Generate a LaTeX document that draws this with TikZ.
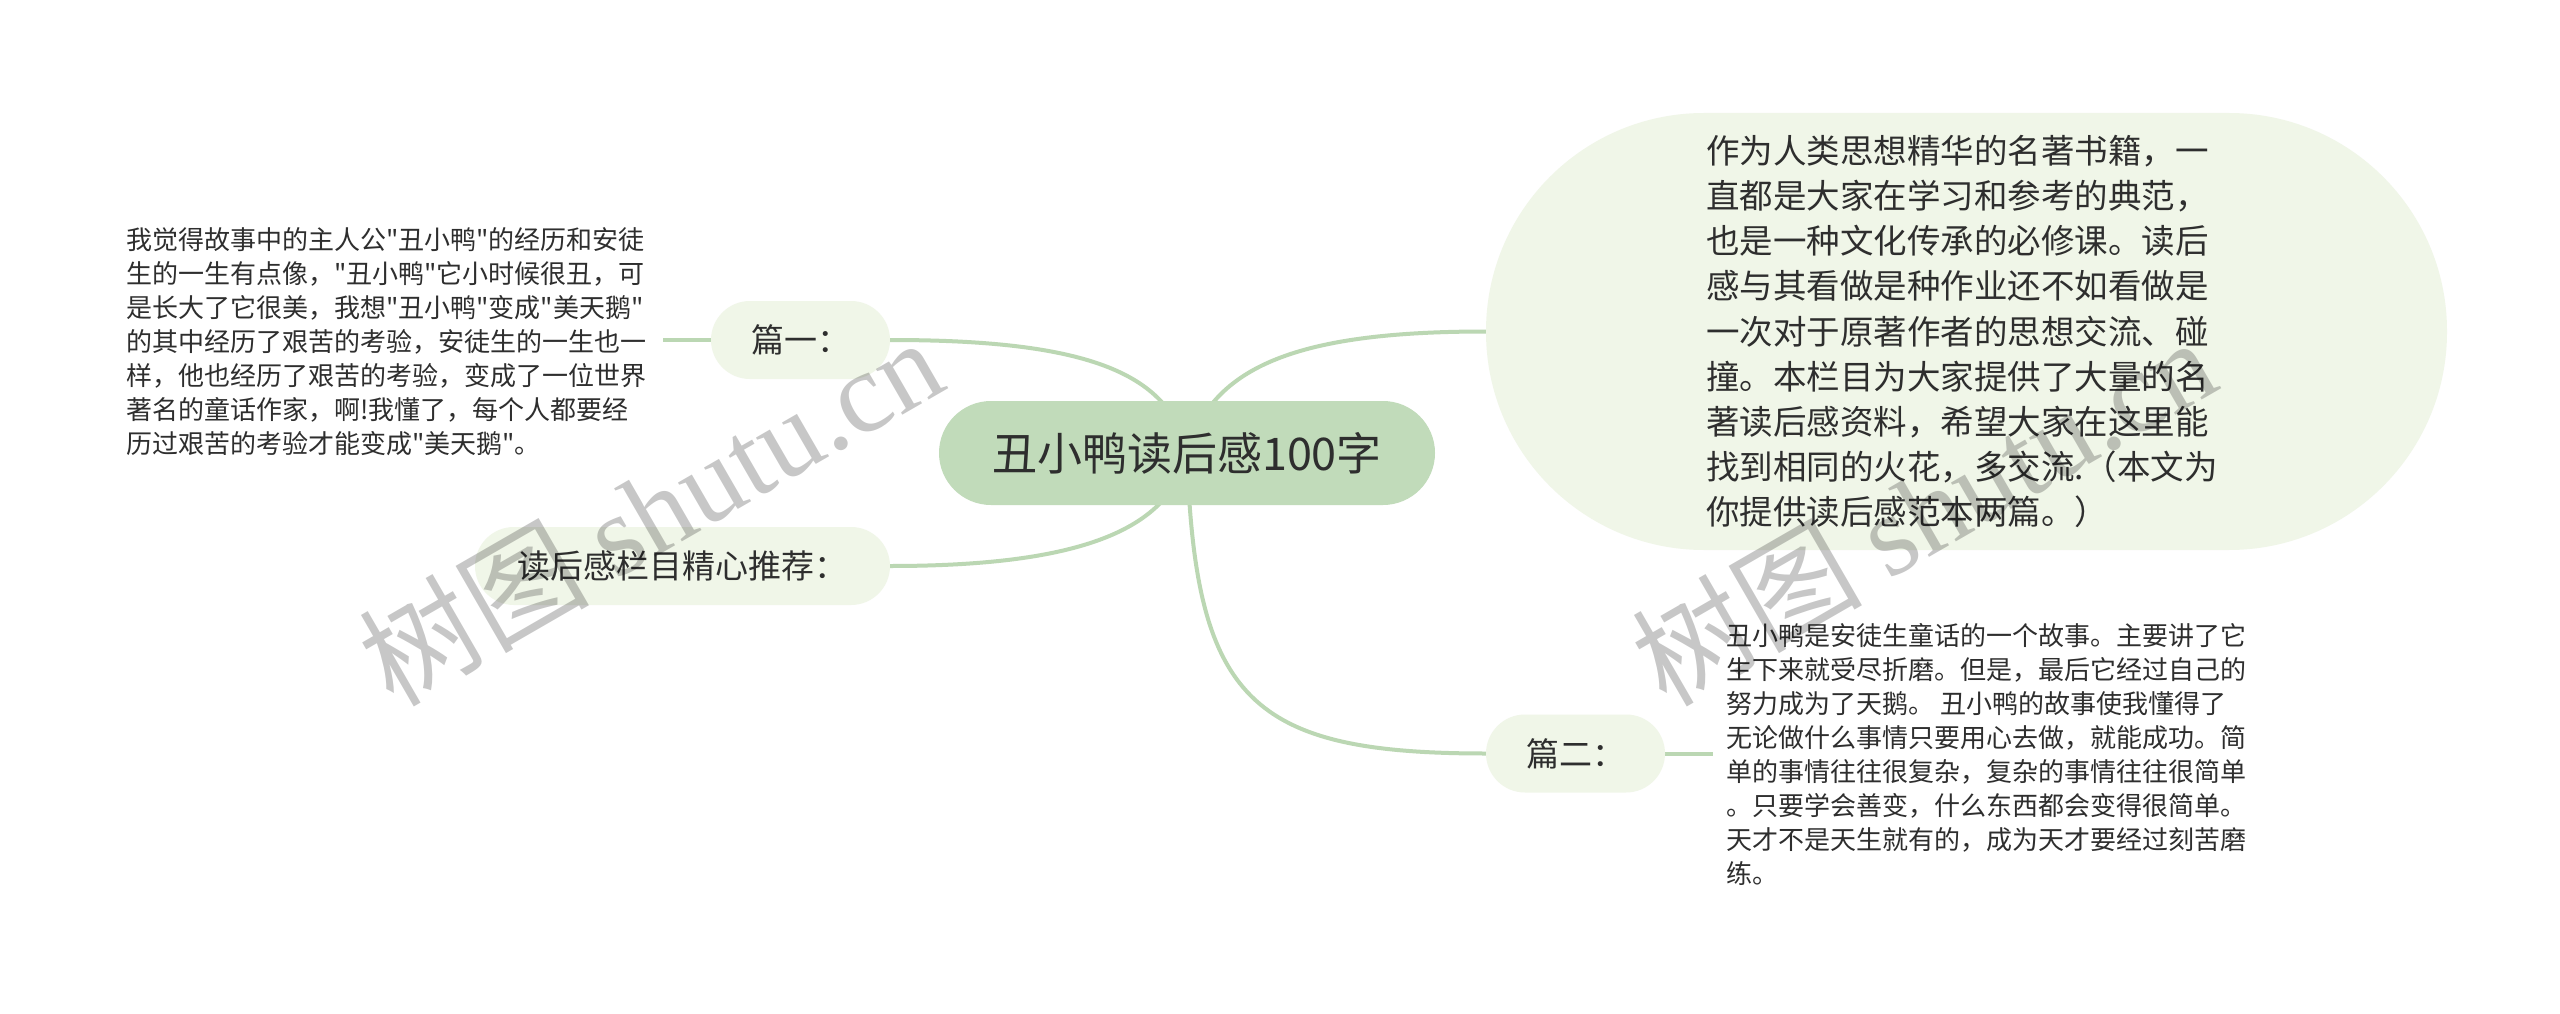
\documentclass[tikz,border=0pt]{standalone}
\usepackage{fontspec}
\newfontfamily\cjk{Noto Sans CJK SC}
\newfontfamily\wmlatin{Liberation Serif}
\usetikzlibrary{backgrounds}
\definecolor{rootfill}{HTML}{C1DBBA}
\definecolor{subfill}{HTML}{F0F6E8}
\definecolor{linkc}{HTML}{BBD7B3}
\definecolor{txt}{HTML}{2E2E2E}
\begin{document}
\begin{tikzpicture}[x=1pt,y=-1pt,
  rootbox/.style={fill=rootfill, rounded corners=52pt, minimum width=496pt, minimum height=104pt, inner sep=0pt, text=txt, font={\cjk\fontsize{45}{54}\selectfont}},
  subbox/.style={fill=subfill, rounded corners=39pt, minimum height=78pt, inner sep=0pt, text=txt, font={\cjk\fontsize{33}{40}\selectfont}},
  bigbox/.style={fill=subfill, rounded corners=218pt, minimum width=961pt, minimum height=437pt, inner sep=0pt, text=txt, align=left, text width=521pt, font={\cjk\fontsize{33.5}{45.1}\selectfont}},
  leaftext/.style={inner sep=0pt, text=txt, align=left, font={\cjk\fontsize{26}{34}\selectfont}},
  link/.style={draw=linkc, line width=4pt},
  watermark/.style={text=black, opacity=0.22, rotate=30, inner sep=0pt}
]
\useasboundingbox (0,0) rectangle (2560,1014);

% nodes
\node[rootbox] (root) at (1187,453) {丑小鸭读后感100字};
\node[subbox, minimum width=179pt] (p1) at (800.5,340) {篇一：};
\node[subbox, minimum width=415pt] (p3) at (682.5,566) {读后感栏目精心推荐：};
\node[subbox, minimum width=179pt] (p2) at (1575.5,753.5) {篇二：};
\node[bigbox] (intro) at (1966.5,331.5) {作为人类思想精华的名著书籍，一\\
直都是大家在学习和参考的典范，\\
也是一种文化传承的必修课。读后\\
感与其看做是种作业还不如看做是\\
一次对于原著作者的思想交流、碰\\
撞。本栏目为大家提供了大量的名\\
著读后感资料，希望大家在这里能\\
找到相同的火花，多交流.（本文为\\
你提供读后感范本两篇。）};

\node[leaftext, anchor=west] (t1) at (126,341.5) {我觉得故事中的主人公"丑小鸭"的经历和安徒\\
生的一生有点像，"丑小鸭"它小时候很丑，可\\
是长大了它很美，我想"丑小鸭"变成"美天鹅"\\
的其中经历了艰苦的考验，安徒生的一生也一\\
样，他也经历了艰苦的考验，变成了一位世界\\
著名的童话作家，啊!我懂了，每个人都要经\\
历过艰苦的考验才能变成"美天鹅"。};

\node[leaftext, anchor=west] (t2) at (1726,754) {丑小鸭是安徒生童话的一个故事。主要讲了它\\
生下来就受尽折磨。但是，最后它经过自己的\\
努力成为了天鹅。 丑小鸭的故事使我懂得了\\
无论做什么事情只要用心去做，就能成功。简\\
单的事情往往很复杂，复杂的事情往往很简单\\
。只要学会善变，什么东西都会变得很简单。\\
天才不是天生就有的，成为天才要经过刻苦磨\\
练。};

\coordinate (s1) at (663,340);
\coordinate (s2) at (1713,753.5);

% connectors
\begin{pgfonlayer}{background}
\fill[white] (0,0) rectangle (2560,1014);
\draw[link] (root.center) .. controls (1212,365) and (1300,331.5) .. (intro.west);
\draw[link] (root.center) .. controls (1195,700) and (1250,753.5) .. (p2.west);
\draw[link] (root.center) .. controls (1170,370) and (1080,340) .. (p1.east);
\draw[link] (root.center) .. controls (1170,530) and (1080,566) .. (p3.east);
\draw[link] (p1.west) -- (s1);
\draw[link] (p2.east) -- (s2);
\end{pgfonlayer}

% watermarks
\node[watermark] (wm1) at (650,510) {\cjk\fontsize{115}{130}\selectfont 树图 \wmlatin shutu.cn};
\node[watermark] (wm2) at (1923,510) {\cjk\fontsize{115}{130}\selectfont 树图 \wmlatin shutu.cn};
\end{tikzpicture}
\end{document}
